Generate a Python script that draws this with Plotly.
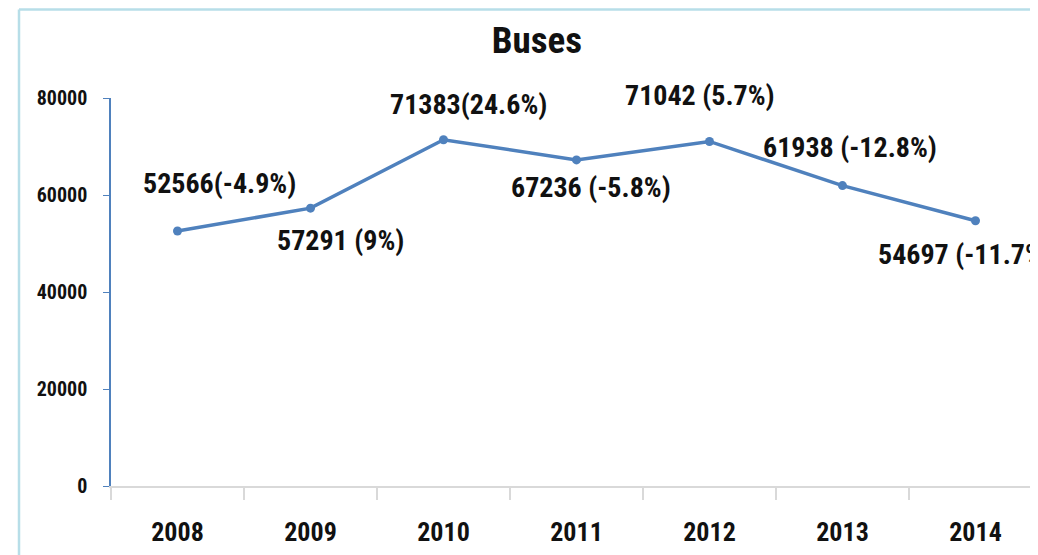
import plotly.graph_objects as go

years = ["2008", "2009", "2010", "2011", "2012", "2013", "2014"]
buses = [52566, 57291, 71383, 67236, 71042, 61938, 54697]
changes = ["-4.9%", "9%", "24.6%", "-5.8%", "5.7%", "-12.8%", "-11.7%"]
label_sep = ["", " ", "", " ", " ", " ", " "]
y_ticks = [0, 20000, 40000, 60000, 80000]

# label offsets (pixels) relative to each point
xshifts = [-37, -36, -56, -67, -86, -81, -99]
yshifts = [48, -32, 35, -28, 46, 38, -34]

FONT = "Liberation Sans Narrow, Roboto Condensed, Arial Narrow, Liberation Sans, sans-serif"
BLUE = "#4F81BD"

fig = go.Figure()
fig.add_trace(go.Scatter(
    x=years, y=buses, mode="lines+markers",
    line=dict(color=BLUE, width=3.5),
    marker=dict(color=BLUE, size=9),
    hoverinfo="x+y",
))

for i, (v, c, s, dx, dy) in enumerate(zip(buses, changes, label_sep, xshifts, yshifts)):
    fig.add_annotation(
        x=i, y=v, text=f"<b>{v}{s}({c})</b>", showarrow=False,
        xanchor="left", yanchor="middle", xshift=dx, yshift=dy,
        font=dict(family=FONT, size=28, color="#111111"),
    )

# page offset (body margin) compensation
OFF = 8
W, H = 1038 - OFF, 555 - OFF
L, R, T, B = 111 - OFF, 0, 98 - OFF, 69
pw, ph = W - L - R, H - T - B

def px(xp):
    return (xp - OFF - L) / pw

def py(yp):
    return (H - B - (yp - OFF)) / ph

border = "#B7DEE8"
fig.add_shape(type="line", xref="paper", yref="paper",
              x0=px(19), x1=px(1045), y0=py(9.5), y1=py(9.5),
              line=dict(color=border, width=2.5))
fig.add_shape(type="line", xref="paper", yref="paper",
              x0=px(19), x1=px(19), y0=py(9.5), y1=py(560),
              line=dict(color=border, width=2.5))

fig.update_layout(
    width=W, height=H,
    margin=dict(l=L, r=R, t=T, b=B),
    paper_bgcolor="white", plot_bgcolor="white",
    showlegend=False,
    title=dict(text="<b>Buses</b>", x=(537 - OFF) / W, xanchor="center",
               y=1 - (40 - OFF) / H, yanchor="middle",
               font=dict(family=FONT, size=37, color="#111111")),
    xaxis=dict(
        type="category", range=[-0.5, 6.47],
        showgrid=False, showline=True, linecolor="#D9D9D9", linewidth=2,
        ticks="outside", tickson="boundaries", ticklen=12, tickcolor="#D9D9D9",
        tickwidth=2,
        tickfont=dict(family=FONT, size=26, color="#111111", weight="bold"),
        ticklabelstandoff=22,
    ),
    yaxis=dict(
        range=[0, 80000], tickvals=y_ticks,
        ticktext=[str(t) for t in y_ticks],
        showgrid=False, zeroline=False, showline=True, linecolor=BLUE,
        linewidth=1.5, ticks="outside", ticklen=6, tickcolor=BLUE,
        tickfont=dict(family=FONT, size=20, color="#111111", weight="bold"),
        ticklabelstandoff=12,
    ),
)

fig.write_html("out.html")
